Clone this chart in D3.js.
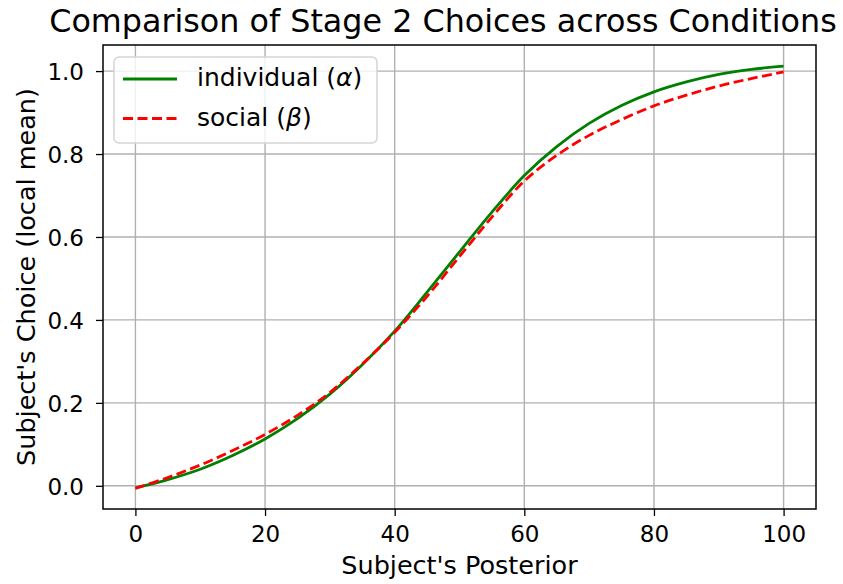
<!DOCTYPE html>
<html><head><meta charset="utf-8">
<script src="https://cdn.jsdelivr.net/npm/d3@7"></script>
<style>body{margin:0;background:#fff}svg{font-family:"DejaVu Sans",sans-serif}</style>
</head><body><svg id="c" width="843" height="584"></svg>
<script>
const posterior = [0,5,10,15,20,25,30,35,40,45,50,55,60,65,70,75,80,85,90,95,100];
const individual = [-0.005,0.015,0.040,0.073,0.113,0.162,0.221,0.292,0.373,0.467,0.564,0.660,0.748,0.818,0.874,0.917,0.950,0.974,0.992,1.004,1.012];
const social = [-0.006,0.020,0.050,0.085,0.124,0.170,0.225,0.294,0.370,0.457,0.553,0.648,0.735,0.797,0.845,0.883,0.916,0.942,0.964,0.982,0.998];
const xTicks = [0,20,40,60,80,100];
const yTicks = [0,0.2,0.4,0.6,0.8,1.0];

const svg = d3.select("#c");
const L=103,R=816,T=45,B=509;
const x = d3.scaleLinear().domain([-5,105]).range([L,R]);
const y = d3.scaleLinear().domain([-0.0559,1.0629]).range([B,T]);

// grid
const g = svg.append("g");
g.selectAll(".gx").data(xTicks).enter().append("line")
 .attr("x1",d=>x(d)).attr("x2",d=>x(d)).attr("y1",T).attr("y2",B)
 .attr("stroke","#b0b0b0").attr("stroke-width",1.4);
g.selectAll(".gy").data(yTicks).enter().append("line")
 .attr("y1",d=>y(d)).attr("y2",d=>y(d)).attr("x1",L).attr("x2",R)
 .attr("stroke","#b0b0b0").attr("stroke-width",1.4);

// lines
const mk = arr => d3.line().x((d,i)=>x(posterior[i])).y(d=>y(d)).curve(d3.curveCatmullRom.alpha(0.5))(arr);
svg.append("path").attr("d",mk(individual)).attr("fill","none").attr("stroke","#008000").attr("stroke-width",2.8);
svg.append("path").attr("d",mk(social)).attr("fill","none").attr("stroke","#ff0000").attr("stroke-width",2.8).attr("stroke-dasharray","10,4.5");

// axes
const xa = svg.append("g").attr("transform",`translate(0,${B})`).call(d3.axisBottom(x).tickValues(xTicks).tickSize(7).tickPadding(9).tickFormat(d3.format("d")));
const ya = svg.append("g").attr("transform",`translate(${L},0)`).call(d3.axisLeft(y).tickValues(yTicks).tickSize(7).tickPadding(12).tickFormat(d3.format(".1f")));
[xa,ya].forEach(a=>{a.select(".domain").remove();a.selectAll("line").attr("stroke","#000").attr("stroke-width",1.3);
 a.selectAll("text").attr("font-size",23).attr("fill","#000").attr("font-family","DejaVu Sans");});
xa.selectAll("text").attr("dy","0.75em");
ya.selectAll("text").attr("dy","0.36em");
svg.append("rect").attr("x",L).attr("y",T).attr("width",R-L).attr("height",B-T).attr("fill","none").attr("stroke","#000").attr("stroke-width",1.5);

// labels
const title = svg.append("text").attr("x",443).attr("y",32).attr("text-anchor","middle").attr("font-size",31.5).text("Comparison of Stage 2 Choices across Conditions");
const tw = title.node().getComputedTextLength();
if (tw > 0) title.attr("font-size", 31.5 * 788 / tw);
svg.append("text").attr("x",(L+R)/2).attr("y",574).attr("text-anchor","middle").attr("font-size",25.5).text("Subject's Posterior");
svg.append("text").attr("transform",`translate(35,${(T+B)/2}) rotate(-90)`).attr("text-anchor","middle").attr("font-size",25.5).text("Subject's Choice (local mean)");

// legend
const lg = svg.append("g");
lg.append("rect").attr("x",114).attr("y",57).attr("width",263).attr("height",86).attr("rx",5)
 .attr("fill","#fff").attr("fill-opacity",0.8).attr("stroke","#d5d5d5").attr("stroke-width",1.5);
const items=[{t:"individual (",s:"α",c:"#008000",d:null},{t:"social (",s:"β",c:"#ff0000",d:"10,4.5"}];
items.forEach((it,i)=>{
 const yy = 79+i*39.5;
 const ln = lg.append("line").attr("x1",123).attr("x2",177).attr("y1",yy).attr("y2",yy).attr("stroke",it.c).attr("stroke-width",2.8);
 if(it.d) ln.attr("stroke-dasharray",it.d);
 const tx = lg.append("text").attr("x",197).attr("y",yy+7).attr("font-size",25);
 tx.append("tspan").text(it.t);
 tx.append("tspan").attr("font-style","italic").text(it.s);
 tx.append("tspan").text(")");
});
</script></body></html>
